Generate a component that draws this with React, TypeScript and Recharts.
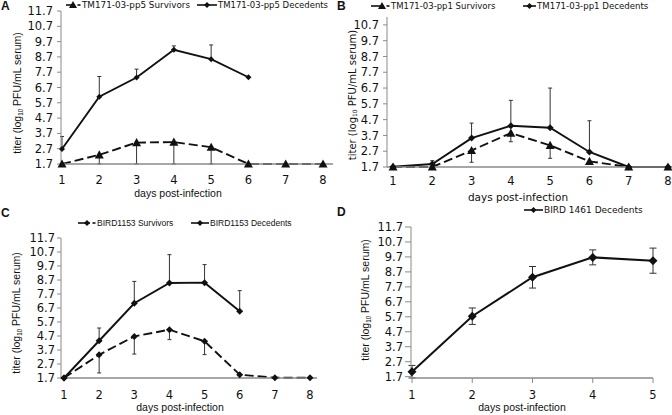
import React from 'react';
import { LineChart, Line, XAxis, YAxis, ErrorBar } from 'recharts';

// ---------- data ----------
const yTicksFull = [1.7, 2.7, 3.7, 4.7, 5.7, 6.7, 7.7, 8.7, 9.7, 10.7, 11.7];
const yTicksB = [1.7, 2.7, 3.7, 4.7, 5.7, 6.7, 7.7, 8.7, 9.7, 10.7];
const days8 = [1, 2, 3, 4, 5, 6, 7, 8];
const days5 = [1, 2, 3, 4, 5];

// Panel A: TM171-03-pp5
const aSurvivors = [1.7, 2.3, 3.1, 3.13, 2.8, 1.7, 1.7, 1.7];
const aSurvivorsLow = [null, 0.6, 1.4, 1.43, 1.1, null, null, null];
const aDecedents = [2.68, 6.1, 7.35, 9.16, 8.55, 7.37, null, null];
const aDecedentsHigh = [0.82, 1.32, 0.55, 0.26, 0.93, null, null, null];

// Panel B: TM171-03-pp1
const bSurvivors = [1.7, 1.7, 2.75, 3.85, 3.07, 2.06, 1.7, 1.7];
const bSurvivorsLow = [null, null, 0.75, 0.55, 0.82, null, null, null];
const bDecedents = [1.72, 1.89, 3.53, 4.31, 4.19, 2.65, 1.7, 1.7];
const bDecedentsHigh = [null, 0.21, 0.95, 1.61, 2.51, 1.98, null, null];

// Panel C: BIRD1153
const cSurvivors = [1.7, 3.36, 4.67, 5.15, 4.32, 1.94, 1.72, 1.72];
const cSurvivorsLow = [null, 1.3, 1.26, 0.71, 0.95, null, null, null];
const cDecedents = [1.7, 4.36, 7.04, 8.49, 8.51, 6.46, null, null];
const cDecedentsHigh = [null, 0.91, 1.56, 2.02, 1.29, 1.48, null, null];

// Panel D: BIRD 1461
const dDecedents = [2.03, 5.74, 8.34, 9.67, 9.45];
const dDecedentsErr = [0.42, 0.55, 0.72, 0.5, 0.84];

type Num = number | null;

function buildRows(days: number[], surv: Num[], survLow: Num[], dec: Num[], decHigh: Num[]) {
  return days.map((day, i) => ({
    day,
    surv: surv[i],
    survErr: survLow[i] != null ? [survLow[i] as number, 0] : undefined,
    dec: dec[i],
    decErr: decHigh[i] != null ? [0, decHigh[i] as number] : undefined,
  }));
}

const rowsA = buildRows(days8, aSurvivors, aSurvivorsLow, aDecedents, aDecedentsHigh);
const rowsB = buildRows(days8, bSurvivors, bSurvivorsLow, bDecedents, bDecedentsHigh);
const rowsC = buildRows(days8, cSurvivors, cSurvivorsLow, cDecedents, cDecedentsHigh);
const rowsD = days5.map((day, i) => ({ day, dec: dDecedents[i], decErr: dDecedentsErr[i] }));

// ---------- styles ----------
const INK = '#111';
const AXIS = '#8a8a8a';
const DEJAVU = "'DejaVu Sans', Verdana, sans-serif";
const ARIAL = "'Liberation Sans', Arial, sans-serif";
const tickStyle = { fontFamily: DEJAVU, fontSize: 11.5, fill: '#111' };
const LW = 1.9;

const triangleDot = (r: number) => (props: any) => {
  const { cx, cy, value, index } = props;
  if (value == null || cx == null || cy == null || isNaN(cy)) return <g key={`t${index}`} />;
  return (
    <polygon
      key={`t${index}`}
      points={`${cx},${cy - r} ${cx + r},${cy + r * 0.8} ${cx - r},${cy + r * 0.8}`}
      fill={INK}
    />
  );
};

const diamondDot = (r: number) => (props: any) => {
  const { cx, cy, value, index } = props;
  if (value == null || cx == null || cy == null || isNaN(cy)) return <g key={`d${index}`} />;
  return (
    <polygon
      key={`d${index}`}
      points={`${cx},${cy - r} ${cx + r},${cy} ${cx},${cy + r} ${cx - r},${cy}`}
      fill={INK}
    />
  );
};

const fmt = (v: number) => v.toFixed(1);

// ---------- overlay helpers ----------
const YTitle = ({ cx, cy, font, size }: any) => (
  <div
    style={{
      position: 'absolute',
      left: cx,
      top: cy,
      whiteSpace: 'nowrap',
      lineHeight: 1,
      fontFamily: font,
      fontSize: size,
      color: '#111',
      transform: 'translate(-50%,-50%) rotate(-90deg)',
    }}
  >
    titer (log<sub style={{ fontSize: '0.6em', verticalAlign: '-0.25em' }}>10</sub> PFU/mL serum)
  </div>
);

const XTitle = ({ cx, cy, font, size }: any) => (
  <div
    style={{
      position: 'absolute',
      left: cx,
      top: cy,
      whiteSpace: 'nowrap',
      lineHeight: 1,
      fontFamily: font,
      fontSize: size,
      color: '#111',
      transform: 'translate(-50%,-50%)',
    }}
  >
    days post-infection
  </div>
);

const LegendItem = ({ left, top, kind, label, font, size, w }: any) => {
  const h = 10;
  const my = h / 2;
  return (
    <div
      style={{
        position: 'absolute',
        left,
        top,
        display: 'flex',
        alignItems: 'center',
        whiteSpace: 'nowrap',
        transform: 'translateY(-50%)',
        fontFamily: font,
        fontSize: size,
        color: '#111',
        lineHeight: 1,
      }}
    >
      <svg width={w} height={h} style={{ display: 'block', marginRight: 1 }}>
        {kind === 'survTri' && (
          <g>
            <line x1={0} y1={my} x2={w - 6} y2={my} stroke={INK} strokeWidth={1.6} />
            <line x1={w - 3.5} y1={my} x2={w - 0.5} y2={my} stroke={INK} strokeWidth={1.6} />
            <polygon points={`${w - 8},${my - 4} ${w - 4},${my + 3} ${w - 12},${my + 3}`} fill={INK} />
          </g>
        )}
        {kind === 'survDia' && (
          <g>
            <line x1={0} y1={my} x2={w - 6} y2={my} stroke={INK} strokeWidth={1.6} />
            <line x1={w - 3.5} y1={my} x2={w - 0.5} y2={my} stroke={INK} strokeWidth={1.6} />
            <polygon points={`${w - 9},${my - 3} ${w - 6},${my} ${w - 9},${my + 3} ${w - 12},${my}`} fill={INK} />
          </g>
        )}
        {kind === 'dec' && (
          <g>
            <line x1={0} y1={my} x2={w} y2={my} stroke={INK} strokeWidth={1.6} />
            <polygon points={`${w / 2},${my - 3} ${w / 2 + 3},${my} ${w / 2},${my + 3} ${w / 2 - 3},${my}`} fill={INK} />
          </g>
        )}
      </svg>
      <span>{label}</span>
    </div>
  );
};

const PanelLetter = ({ left, top, text }: any) => (
  <div
    style={{
      position: 'absolute',
      left,
      top,
      fontFamily: ARIAL,
      fontWeight: 'bold',
      fontSize: 12,
      lineHeight: 1,
      color: '#111',
    }}
  >
    {text}
  </div>
);

const box = (x: number, y: number): React.CSSProperties => ({ position: 'absolute', left: x, top: y });

export default function App() {
  return (
    <div
      style={{
        position: 'absolute',
        left: 0,
        top: 0,
        width: 672,
        height: 415,
        overflow: 'hidden',
        background: '#fff',
      }}
    >
      {/* ---------------- Panel A ---------------- */}
      <div style={box(0, 0)}>
        <LineChart width={336} height={205} data={rowsA} margin={{ top: 11, right: 3, bottom: 21, left: 31 }}>
          <XAxis
            dataKey="day"
            type="number"
            domain={[1, 8]}
            ticks={days8}
            interval={0}
            padding={{ left: 1, right: 10 }}
            axisLine={{ stroke: AXIS, strokeWidth: 1.5 }}
            tickLine={false}
            tickSize={6}
            tickMargin={6}
            tick={tickStyle}
            height={20}
          />
          <YAxis
            type="number"
            domain={[1.7, 11.7]}
            ticks={yTicksFull}
            interval={0}
            tickFormatter={fmt}
            axisLine={{ stroke: AXIS }}
            tickLine={{ stroke: AXIS }}
            tickSize={4}
            tickMargin={4}
            tick={tickStyle}
            width={30}
          />
          <Line
            dataKey="surv"
            stroke={INK}
            strokeWidth={LW}
            strokeDasharray="9 4"
            dot={triangleDot(4.5)}
            activeDot={false}
            isAnimationActive={false}
          >
            <ErrorBar dataKey="survErr" direction="y" width={2} stroke="#333" strokeWidth={1} />
          </Line>
          <Line
            dataKey="dec"
            stroke={INK}
            strokeWidth={LW}
            dot={diamondDot(3)}
            activeDot={false}
            isAnimationActive={false}
          >
            <ErrorBar dataKey="decErr" direction="y" width={2} stroke="#333" strokeWidth={1} />
          </Line>
        </LineChart>
      </div>

      {/* ---------------- Panel B ---------------- */}
      <div style={box(336, 0)}>
        <LineChart width={340} height={200} data={rowsB} margin={{ top: 17, right: 2, bottom: 13, left: 21 }}>
          <XAxis
            dataKey="day"
            type="number"
            domain={[1, 8]}
            ticks={days8}
            interval={0}
            padding={{ left: 6, right: 6 }}
            axisLine={{ stroke: AXIS, strokeWidth: 1.5 }}
            tickLine={false}
            tickSize={6}
            tickMargin={4}
            tick={tickStyle}
            height={20}
          />
          <YAxis
            type="number"
            domain={[1.7, 11.2]}
            ticks={yTicksB}
            interval={0}
            tickFormatter={fmt}
            axisLine={{ stroke: AXIS }}
            tickLine={{ stroke: AXIS }}
            tickSize={4}
            tickMargin={4}
            tick={tickStyle}
            width={30}
          />
          <Line
            dataKey="surv"
            stroke={INK}
            strokeWidth={LW}
            strokeDasharray="9 4"
            dot={triangleDot(4.5)}
            activeDot={false}
            isAnimationActive={false}
          >
            <ErrorBar dataKey="survErr" direction="y" width={2} stroke="#333" strokeWidth={1} />
          </Line>
          <Line
            dataKey="dec"
            stroke={INK}
            strokeWidth={LW}
            dot={diamondDot(3.5)}
            activeDot={false}
            isAnimationActive={false}
          >
            <ErrorBar dataKey="decErr" direction="y" width={2} stroke="#333" strokeWidth={1} />
          </Line>
        </LineChart>
      </div>

      {/* ---------------- Panel C ---------------- */}
      <div style={box(0, 205)}>
        <LineChart width={336} height={210} data={rowsC} margin={{ top: 33, right: 19, bottom: 17, left: 31 }}>
          <XAxis
            dataKey="day"
            type="number"
            domain={[1, 8]}
            ticks={days8}
            interval={0}
            padding={{ left: 3, right: 7 }}
            axisLine={{ stroke: AXIS, strokeWidth: 1.5 }}
            tickLine={false}
            tickSize={6}
            tickMargin={7}
            tick={tickStyle}
            height={20}
          />
          <YAxis
            type="number"
            domain={[1.7, 11.7]}
            ticks={yTicksFull}
            interval={0}
            tickFormatter={fmt}
            axisLine={{ stroke: AXIS }}
            tickLine={{ stroke: AXIS }}
            tickSize={4}
            tickMargin={2}
            tick={tickStyle}
            width={30}
          />
          <Line
            dataKey="surv"
            stroke={INK}
            strokeWidth={LW}
            strokeDasharray="9 4"
            dot={diamondDot(3.5)}
            activeDot={false}
            isAnimationActive={false}
          >
            <ErrorBar dataKey="survErr" direction="y" width={2} stroke="#333" strokeWidth={1} />
          </Line>
          <Line
            dataKey="dec"
            stroke={INK}
            strokeWidth={LW}
            dot={diamondDot(3.5)}
            activeDot={false}
            isAnimationActive={false}
          >
            <ErrorBar dataKey="decErr" direction="y" width={2} stroke="#333" strokeWidth={1} />
          </Line>
        </LineChart>
      </div>

      {/* ---------------- Panel D ---------------- */}
      <div style={box(336, 205)}>
        <LineChart width={336} height={210} data={rowsD} margin={{ top: 22, right: 19, bottom: 17, left: 45 }}>
          <XAxis
            dataKey="day"
            type="number"
            domain={[1, 5]}
            ticks={days5}
            interval={0}
            padding={{ left: 1, right: 0 }}
            axisLine={{ stroke: AXIS, strokeWidth: 1.5 }}
            tickLine={{ stroke: AXIS }}
            tickSize={5}
            tickMargin={8}
            tick={tickStyle}
            height={20}
          />
          <YAxis
            type="number"
            domain={[1.7, 11.7]}
            ticks={yTicksFull}
            interval={0}
            tickFormatter={fmt}
            axisLine={{ stroke: AXIS }}
            tickLine={{ stroke: AXIS }}
            tickSize={6}
            tickMargin={2}
            tick={tickStyle}
            width={30}
          />
          <Line
            dataKey="dec"
            stroke={INK}
            strokeWidth={2}
            dot={diamondDot(4.5)}
            activeDot={false}
            isAnimationActive={false}
          >
            <ErrorBar dataKey="decErr" direction="y" width={3.5} stroke="#333" strokeWidth={1} />
          </Line>
        </LineChart>
      </div>

      {/* ---------------- overlays: letters ---------------- */}
      <PanelLetter left={1} top={0} text="A" />
      <PanelLetter left={337} top={0} text="B" />
      <PanelLetter left={1} top={207} text="C" />
      <PanelLetter left={337} top={206} text="D" />

      {/* legends */}
      <LegendItem left={66} top={5} kind="survTri" w={15} label="TM171-03-pp5 Survivors" font={DEJAVU} size={8.8} />
      <LegendItem left={197} top={5} kind="dec" w={20} label="TM171-03-pp5 Decedents" font={DEJAVU} size={8.5} />
      <LegendItem left={371} top={6} kind="survTri" w={19} label="TM171-03-pp1 Survivors" font={DEJAVU} size={8.5} />
      <LegendItem left={523} top={6} kind="dec" w={13} label="TM171-03-pp1 Decedents" font={DEJAVU} size={8.6} />
      <LegendItem left={78} top={223} kind="survDia" w={18} label="BIRD1153 Survivors" font={ARIAL} size={8.5} />
      <LegendItem left={191} top={223} kind="dec" w={18} label="BIRD1153 Decedents" font={ARIAL} size={8.5} />
      <LegendItem left={524} top={210} kind="dec" w={19} label="BIRD 1461 Decedents" font={DEJAVU} size={9} />

      {/* axis titles */}
      <YTitle cx={18} cy={93} font={ARIAL} size={10.5} />
      <YTitle cx={353} cy={95} font={DEJAVU} size={10} />
      <YTitle cx={17} cy={313} font={ARIAL} size={10.5} />
      <YTitle cx={366} cy={300} font={ARIAL} size={10.5} />

      <XTitle cx={178} cy={193} font={ARIAL} size={10.5} />
      <XTitle cx={518} cy={197} font={DEJAVU} size={10.5} />
      <XTitle cx={180} cy={407} font={ARIAL} size={10.5} />
      <XTitle cx={522} cy={407} font={ARIAL} size={10.5} />
    </div>
  );
}
